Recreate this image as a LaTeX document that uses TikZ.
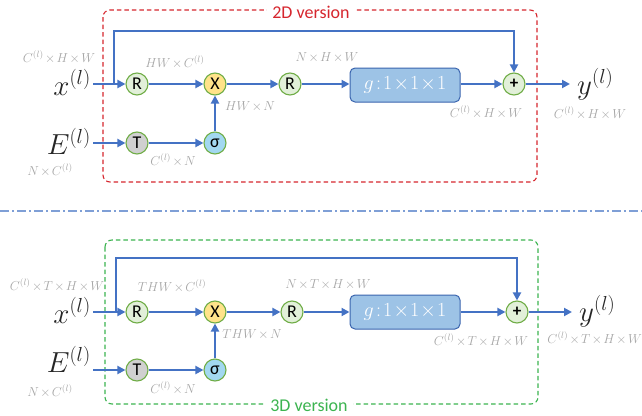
\RequirePackage{fix-cm}
\documentclass[tikz,border=0pt]{standalone}
\usepackage{fontspec}
\setmainfont{Carlito}
\usetikzlibrary{arrows.meta}
\definecolor{ablue}{HTML}{4472C4}
\definecolor{cgreen}{HTML}{70AD47}
\definecolor{lgreen}{HTML}{E2F0D9}
\definecolor{xyellow}{HTML}{FFE38A}
\definecolor{tgray}{HTML}{D0D0D0}
\definecolor{sblue}{HTML}{A2D8F0}
\definecolor{gfill}{HTML}{9DC3E6}
\definecolor{gdraw}{HTML}{3A64AE}
\definecolor{dimgray}{HTML}{A6A6A6}
\definecolor{vred}{HTML}{D6262E}
\definecolor{vgreen}{HTML}{3CB450}
\definecolor{divblue}{HTML}{7F9FD6}
\newcommand{\dimtx}[1]{$\medmuskip=2mu\relax #1$}
\begin{document}
\begin{tikzpicture}[x=1pt,y=-1pt,
  op/.style={circle, draw=cgreen, line width=1.1pt, minimum size=22pt, inner sep=0pt, text=black, font=\fontsize{18}{18}\selectfont},
  plusop/.style={op, fill=lgreen, font=\fontsize{17}{17}\selectfont\bfseries},
  arr/.style={draw=ablue, line width=2pt, -{Triangle[length=8pt,width=8pt]}},
  dimlab/.style={text=dimgray, font=\fontsize{13}{14}\selectfont, inner sep=0pt},
  biglab/.style={text=black!85, font=\fontsize{29}{30}\selectfont, inner sep=0pt},
  gbox/.style={draw=gdraw, fill=gfill, line width=1pt, rounded corners=5pt, minimum width=110pt, minimum height=34pt, text=white, font=\fontsize{20}{20}\selectfont},
  vbox/.style={line width=1.1pt, dash pattern=on 4.5pt off 3pt, rounded corners=7pt},
  vlab/.style={fill=white, inner xsep=5pt, inner ysep=0pt, font=\fontsize{18}{18}\selectfont}
]
\useasboundingbox (0,0) rectangle (642,415);

% ---------- top panel (2D) ----------
\draw[vbox, draw=vred] (103,10) rectangle (537,182);
\node[vlab, text=vred] (v2d) at (311,12) {2D version};

\node[biglab, anchor=base east] (xa) at (91,95) {$x^{(l)}$};
\node[biglab, anchor=base east] (ea) at (91,154) {$E^{(l)}$};
\node[op, fill=lgreen] (ra) at (137,84) {R};
\node[op, fill=xyellow] (xxa) at (215,84) {X};
\node[op, fill=lgreen] (rb) at (290,84) {R};
\node[gbox] (ga) at (405,85) {$g\!:\!1\!\times\!1\!\times\!1$};
\node[plusop] (pa) at (514,84) {+};
\node[op, fill=tgray] (ta) at (137,143) {T};
\node[op, fill=sblue] (sa) at (215,143) {σ};
\node[biglab, anchor=base west] (ya) at (577,94) {$y^{(l)}$};
\coordinate (sa0) at (114,84);
\coordinate (ka) at (514,31);
\coordinate (oa) at (570,84);
\coordinate (xae) at (93,84);
\coordinate (eae) at (93,143);

\draw[arr] (xae) -- (ra);
\draw[arr] (ra) -- (xxa);
\draw[arr] (xxa) -- (rb);
\draw[arr] (rb) -- (rb -| ga.west);
\draw[arr] (ga.east |- pa) -- (pa);
\draw[arr] (pa) -- (oa);
\draw[arr] (eae) -- (ta);
\draw[arr] (ta) -- (sa);
\draw[arr] (sa) -- (xxa);
\draw[arr] (sa0) |- (ka) -- (pa);

\node[dimlab] (la1) at (59,57) {\dimtx{C^{(l)}\times H\times W}};
\node[dimlab] (la2) at (175,62) {\dimtx{HW\times C^{(l)}}};
\node[dimlab] (la3) at (327,58) {\dimtx{N\times H\times W}};
\node[dimlab] (la4) at (250,107) {\dimtx{HW\times N}};
\node[dimlab] (la5) at (173,160) {\dimtx{C^{(l)}\times N}};
\node[dimlab] (la6) at (50,170) {\dimtx{N\times C^{(l)}}};
\node[dimlab] (la7) at (486,112) {\dimtx{C^{(l)}\times H\times W}};
\node[dimlab] (la8) at (590,113) {\dimtx{C^{(l)}\times H\times W}};

% ---------- divider ----------
\coordinate (d0) at (0,211);
\coordinate (d1) at (642,211);
\draw[divblue, line width=1.1pt, dash pattern=on 9pt off 3pt on 2pt off 3pt] (d0) -- (d1);

% ---------- bottom panel (3D) ----------
\draw[vbox, draw=vgreen] (105,240) rectangle (538,404);
\node[vlab, text=vgreen] (v3d) at (309,405) {3D version};

\node[biglab, anchor=base east] (xb) at (91,323) {$x^{(l)}$};
\node[biglab, anchor=base east] (eb) at (91,372) {$E^{(l)}$};
\node[op, fill=lgreen] (rc) at (137,312) {R};
\node[op, fill=xyellow] (xxb) at (215,312) {X};
\node[op, fill=lgreen] (rd) at (292,312) {R};
\node[gbox] (gb) at (405,312) {$g\!:\!1\!\times\!1\!\times\!1$};
\node[plusop] (pb) at (517,312) {+};
\node[op, fill=tgray] (tb) at (137,370) {T};
\node[op, fill=sblue] (sb) at (215,370) {σ};
\node[biglab, anchor=base west] (yb) at (579,321) {$y^{(l)}$};
\coordinate (sb0) at (116,312);
\coordinate (kb) at (517,258);
\coordinate (ob) at (572,312);
\coordinate (xbe) at (93,312);
\coordinate (ebe) at (93,370);

\draw[arr] (xbe) -- (rc);
\draw[arr] (rc) -- (xxb);
\draw[arr] (xxb) -- (rd);
\draw[arr] (rd) -- (gb);
\draw[arr] (gb) -- (pb);
\draw[arr] (pb) -- (ob);
\draw[arr] (ebe) -- (tb);
\draw[arr] (tb) -- (sb);
\draw[arr] (sb) -- (xxb);
\draw[arr] (sb0) |- (kb) -- (pb);

\node[dimlab] (lb1) at (57,285) {\dimtx{C^{(l)}\times T\times H\times W}};
\node[dimlab] (lb2) at (172,286) {\dimtx{THW\times C^{(l)}}};
\node[dimlab] (lb3) at (328,285) {\dimtx{N\times T\times H\times W}};
\node[dimlab] (lb4) at (252,335) {\dimtx{THW\times N}};
\node[dimlab] (lb5) at (173,388) {\dimtx{C^{(l)}\times N}};
\node[dimlab] (lb6) at (50,391) {\dimtx{N\times C^{(l)}}};
\node[dimlab] (lb7) at (481,340) {\dimtx{C^{(l)}\times T\times H\times W}};
\node[dimlab, anchor=east] (lb8) at (642,338) {\dimtx{C^{(l)}\times T\times H\times W}};
\end{tikzpicture}
\end{document}
